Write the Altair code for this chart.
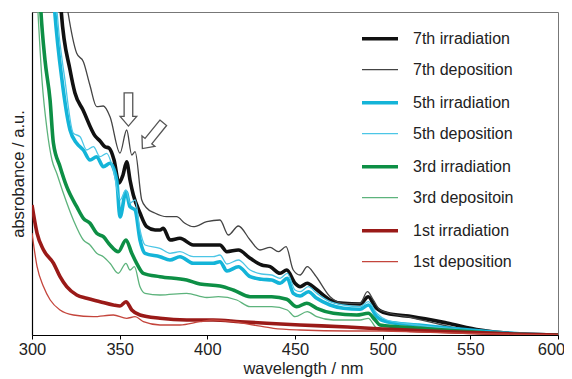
import altair as alt
import pandas as pd

# ---- data (absorbance in arbitrary units) ----
series_names = ["7th irradiation", "7th deposition", "5th irradiation", "5th deposition",
                "3rd irradiation", "3rd depositoin", "1st irradiation", "1st deposition"]
series_colors = ["#111111", "#444444", "#14b4d8", "#4cc6e6",
                 "#0d8f45", "#5db37c", "#9a1a18", "#c4453c"]
series_widths = [3.6, 1.3, 3.6, 1.3, 3.6, 1.3, 3.6, 1.3]

wl_7irr = [315.5, 316.7, 321.7, 324.5, 329.1, 336.0, 338.8, 341.6, 343.9, 346.8, 349.6, 351.9, 354.0, 355.9, 357.8, 361.6, 365.4, 370.2, 373.0, 374.9, 378.7, 384.4, 392.0, 407.2, 411.1, 417.7, 424.4, 431.0, 435.8, 441.5, 445.3, 450.0, 452.9, 457.0, 461.4, 470.0, 477.6, 487.1, 491.8, 495.7, 502.3, 517.3, 536.6, 555.6, 578.4, 600]
ab_7irr = [360, 323, 265, 242, 225, 199, 194, 188.3, 187, 175, 152, 160, 173.3, 155, 140, 122, 108.3, 105, 105, 106.7, 95, 96.7, 90, 90, 83.3, 85, 76.7, 70, 68.3, 61.7, 65, 51.7, 48.3, 51.7, 46.7, 35, 31.7, 31, 38.3, 28.3, 21.7, 18.3, 12, 5, 1, 0]

wl_7dep = [317.5, 320.5, 325.5, 329.3, 333.0, 336.9, 340.7, 344.5, 350.2, 354.0, 356.9, 358.8, 362.6, 365.4, 370.0, 376.8, 382.5, 387.0, 392.0, 399.7, 407.2, 412.0, 417.7, 424.4, 430.0, 435.8, 440.5, 444.9, 449.0, 452.9, 457.0, 461.4, 470.0, 477.6, 487.1, 491.3, 494.7, 498.5, 517.3, 536.6, 555.6, 574.4, 600]
ab_7dep = [360, 323, 281.7, 273.3, 250, 228.3, 229, 218.3, 182, 205, 180, 183.3, 135, 127, 122, 118.3, 118.3, 112, 108.3, 113.3, 115, 100, 109, 95, 85, 87.7, 83.3, 88.3, 65, 60, 68.3, 60, 38.3, 31.7, 31.7, 43.3, 35, 25, 17, 9, 3, 1.2, 0]

wl_5irr = [311.5, 313.0, 317.1, 321.7, 325.5, 329.3, 333.1, 336.9, 340.7, 344.5, 348.3, 350.2, 353.6, 355.9, 358.8, 361.6, 364.5, 373.0, 378.7, 384.4, 392.0, 403.3, 407.2, 411.2, 417.7, 424.4, 431.0, 436.7, 441.5, 445.6, 449.0, 452.9, 457.6, 462.4, 470.0, 477.6, 487.1, 491.8, 496.6, 502.3, 520, 540, 560, 580, 600]
ab_5irr = [360, 323, 255, 205, 191.7, 185, 175, 178.3, 168.3, 171.7, 155, 118, 143.3, 128.3, 125, 95, 81.7, 78.3, 75, 78.3, 71.7, 71.7, 73.3, 64, 68.3, 58.3, 55.7, 55, 51.7, 56.7, 41.7, 39, 43.3, 36.7, 30, 26.7, 25.7, 30, 18.3, 13.3, 10, 6.5, 3.5, 1, 0]

wl_5dep = [313.0, 314.3, 318.8, 323.6, 327.4, 331.2, 335.0, 338.8, 342.6, 346.4, 350.2, 353.6, 355.9, 358.8, 361.6, 364.5, 373.0, 378.7, 384.4, 392.0, 403.3, 407.2, 411.2, 417.7, 424.4, 431.0, 436.7, 441.5, 445.6, 450.0, 452.9, 457.6, 462.4, 470.0, 477.6, 487.1, 491.8, 496.6, 502.3, 520, 540, 560, 580, 600]
ab_5dep = [360, 323, 255, 201.7, 198.3, 185, 188.3, 178.3, 181.7, 165, 135, 145, 132, 135, 105, 90, 86.7, 81.7, 83.3, 78.3, 78.3, 80, 71, 75, 65, 61, 60, 56.7, 61.7, 45, 43.3, 48.3, 41.7, 33.3, 30, 28.3, 33.3, 21.7, 15, 10, 6, 3, 1, 0]

wl_3irr = [304.0, 305.1, 307.4, 310.3, 312.2, 316.0, 319.8, 325.5, 329.3, 333.1, 336.9, 340.7, 344.5, 349.2, 353.6, 356.9, 359.7, 363.5, 373.0, 388.2, 395.8, 407.2, 414.8, 424.4, 436.7, 445.3, 451.0, 456.7, 462.4, 471.9, 485.2, 491.8, 495.7, 498.5, 520, 540, 560, 580, 600]
ab_3irr = [360, 323, 275, 235, 192, 168.3, 148.3, 128.3, 116.7, 111.7, 101.7, 98.3, 90, 83.3, 95, 81.7, 71.7, 61.7, 58.3, 55, 51, 49, 45, 38.3, 38.3, 35.7, 28.3, 31.7, 26.7, 21.7, 20, 21.7, 15, 10, 7, 4.5, 2, 0.5, 0]

wl_3dep = [302.3, 303.4, 305.7, 308.6, 311.4, 314.1, 317.9, 323.6, 329.3, 333.1, 336.9, 340.7, 344.5, 349.2, 353.6, 355.9, 358.4, 361.6, 364.5, 373.0, 388.2, 399.7, 406.3, 416.8, 424.4, 436.7, 445.6, 450.0, 457.0, 462.4, 471.9, 487.1, 491.8, 495.7, 497.4, 520, 550, 580, 600]
ab_3dep = [360, 323, 255, 205, 175, 161.7, 141.7, 115, 95, 90, 81.7, 78.3, 71.7, 61.7, 71.7, 65, 68.3, 48.3, 41.7, 40, 41.7, 37.5, 38.3, 35, 28.3, 28.3, 25, 18.3, 23.3, 18.3, 15, 15, 16.7, 8.3, 5, 3.5, 2, 0.5, 0]

wl_1irr = [300, 302.9, 306.6, 312.3, 316.0, 319.8, 325.5, 331.2, 338.8, 346.4, 350.2, 353.6, 356.9, 361.6, 373.0, 388.2, 403.3, 418.6, 433.8, 452.9, 480, 500, 520, 550, 575, 600]
ab_1irr = [130, 101.7, 85, 71.7, 58.3, 48.3, 40, 36.7, 33.3, 30, 29, 33.3, 25, 20, 16.7, 15, 15, 13.3, 11.7, 10, 8, 6, 4.5, 2.5, 1, 0]

wl_1dep = [300, 302.9, 306.6, 310.4, 316.0, 323.6, 335.0, 346.4, 354.0, 358.8, 363.5, 373.0, 384.4, 395.8, 403.3, 414.8, 426.3, 437.7, 452.9, 480, 500, 520, 550, 580, 600]
ab_1dep = [102, 68.3, 48.3, 35, 25, 20, 18.3, 20, 16.7, 18.3, 13.3, 10, 10, 13.3, 15, 13.3, 10, 6.7, 5, 4, 4, 3, 1.5, 0.5, 0]

x_ticks = [300, 350, 400, 450, 500, 550, 600]

# annotation arrows (position in data units, rotation in degrees)
arrow_wl = [355.0, 368.9]
arrow_ab = [225.5, 199.3]
arrow_angle = [0, 39]

# ---- build tables ----
all_wl = [wl_7irr, wl_7dep, wl_5irr, wl_5dep, wl_3irr, wl_3dep, wl_1irr, wl_1dep]
all_ab = [ab_7irr, ab_7dep, ab_5irr, ab_5dep, ab_3irr, ab_3dep, ab_1irr, ab_1dep]
rows = []
for idx in range(len(series_names)):
    for w, a in zip(all_wl[idx], all_ab[idx]):
        rows.append({"series": series_names[idx], "c": series_colors[idx],
                     "w": series_widths[idx], "wl": w, "ab": a})
df = pd.DataFrame(rows)

leg = pd.DataFrame({"series": series_names, "i": list(range(len(series_names))),
                    "c": series_colors, "w": series_widths})
arrows = pd.DataFrame({"wl": arrow_wl, "ab": arrow_ab, "angle": arrow_angle})

FONT = "Liberation Sans"
W, H = 526, 323

xscale = alt.Scale(domain=[300, 600], nice=False)
yscale = alt.Scale(domain=[0, 323], nice=False)

lines = alt.Chart(df).mark_line(interpolate="monotone", clip=True).encode(
    x=alt.X("wl:Q", scale=xscale,
            axis=alt.Axis(values=x_ticks, title="wavelength / nm", grid=False,
                          tickSize=4, labelPadding=2, titlePadding=3,
                          labelFlush=False, format="d", titleX=271,
                          labelOffset={"condition": {"test": "datum.value == 600", "value": -7},
                                       "value": 0})),
    y=alt.Y("ab:Q", scale=yscale,
            axis=alt.Axis(title="absrobance / a.u.", labels=False, ticks=False,
                          grid=False, titlePadding=6)),
    color=alt.Color("c:N", scale=None),
    strokeWidth=alt.StrokeWidth("w:Q", scale=None),
    detail="series:N",
)

arrow_path = "M -0.26 -1 L 0.26 -1 L 0.26 0.42 L 0.5 0.42 L 0 1 L -0.5 0.42 L -0.26 0.42 Z"
arrow_marks = alt.Chart(arrows).mark_point(
    shape=arrow_path, filled=True, fill="white", stroke="#555555",
    strokeWidth=1.3, size=1100, opacity=1
).encode(
    x=alt.X("wl:Q", scale=xscale),
    y=alt.Y("ab:Q", scale=yscale),
    angle=alt.Angle("angle:Q", scale=None),
)

leg_base = alt.Chart(leg).transform_calculate(
    py="26.7 + 31 * datum.i + 2 * floor(datum.i / 2)"
)
leg_rules = leg_base.mark_rule().encode(
    x=alt.value(330),
    x2=alt.value(366),
    y=alt.Y("py:Q", scale=None),
    color=alt.Color("c:N", scale=None),
    strokeWidth=alt.StrokeWidth("w:Q", scale=None),
)
leg_text = leg_base.mark_text(align="left", baseline="middle", font=FONT,
                              fontSize=16, color="#222222").encode(
    x=alt.value(381),
    y=alt.Y("py:Q", scale=None),
    text="series:N",
)

chart = alt.layer(lines, arrow_marks, leg_rules, leg_text).properties(
    width=W, height=H,
    autosize=alt.AutoSizeParams(type="none"),
    padding={"left": 24, "top": 4, "right": 6, "bottom": 44},
).configure_view(
    stroke="#777777", strokeWidth=1
).configure_axis(
    labelFont=FONT, titleFont=FONT, labelFontSize=16.5, titleFontSize=16.5,
    titleFontWeight="normal", labelColor="#222222", titleColor="#222222",
    domainColor="#000000", domainWidth=1.2, tickColor="#000000",
)

chart.save("out.html", embed_options={"renderer": "svg", "actions": False})
